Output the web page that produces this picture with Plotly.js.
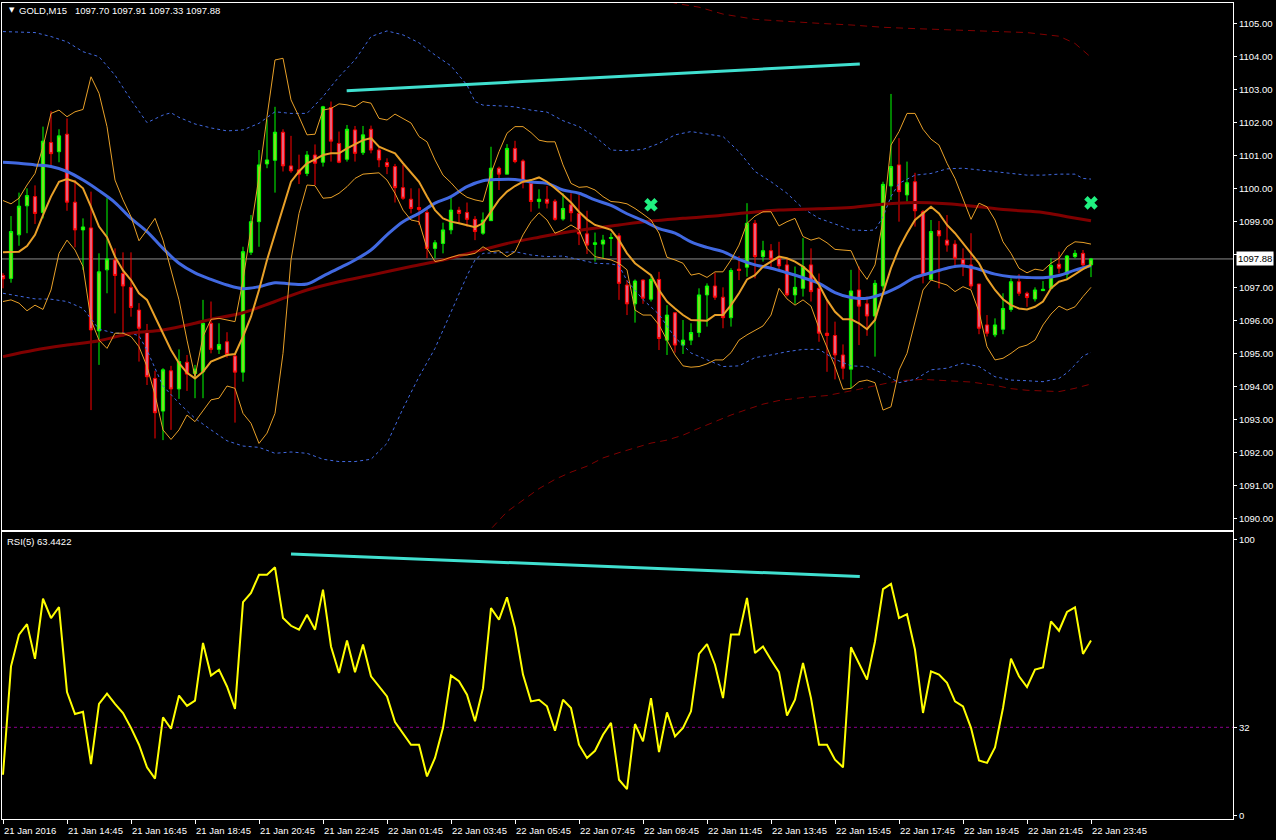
<!DOCTYPE html>
<html><head><meta charset="utf-8">
<script src="https://cdn.plot.ly/plotly-3.0.1.min.js"></script>
<style>html,body{margin:0;padding:0;background:#000;overflow:hidden}#chart{width:1276px;height:840px}</style>
</head><body><div id="chart"></div>
<script>
const symbolTitle = 'GOLD,M15\u00a0\u00a0 1097.70 1097.91 1097.33 1097.88';
const rsiTitle = 'RSI(5) 63.4422';
const timeLabels = ['21 Jan 2016','21 Jan 14:45','21 Jan 16:45','21 Jan 18:45','21 Jan 20:45','21 Jan 22:45','22 Jan 01:45','22 Jan 03:45','22 Jan 05:45','22 Jan 07:45','22 Jan 09:45','22 Jan 11:45','22 Jan 13:45','22 Jan 15:45','22 Jan 17:45','22 Jan 19:45','22 Jan 21:45','22 Jan 23:45'];
const barsPerLabel = 8;
const priceTicks = [1090,1091,1092,1093,1094,1095,1096,1097,1098,1099,1100,1101,1102,1103,1104,1105];
const rsiTicks = [0,32,100];
const rsiLevel = 32;

const open = [1097.38,1097.29,1098.61,1099.49,1099.77,1099.29,1101.41,1101.13,1101.66,1099.60,1098.76,1098.82,1095.70,1097.55,1097.85,1097.44,1097.02,1096.33,1095.70,1094.26,1093.27,1094.49,1093.94,1094.75,1094.41,1094.46,1095.93,1095.14,1095.37,1094.94,1094.45,1098.08,1099.01,1100.76,1100.87,1101.72,1100.70,1100.58,1100.47,1101.03,1100.81,1102.47,1101.38,1100.90,1101.79,1101.10,1101.81,1101.18,1100.80,1100.68,1100.04,1099.69,1099.44,1099.29,1098.20,1098.35,1098.76,1099.36,1099.29,1099.08,1098.66,1099.04,1100.63,1100.45,1101.23,1100.85,1100.17,1099.62,1099.69,1099.63,1099.09,1099.52,1099.26,1098.64,1098.32,1098.33,1098.50,1098.58,1097.09,1096.52,1097.24,1096.66,1097.26,1095.42,1096.25,1095.27,1095.42,1095.65,1096.79,1097.06,1096.72,1096.10,1097.57,1097.63,1098.96,1097.95,1098.13,1097.90,1097.70,1096.79,1096.99,1097.70,1096.99,1095.63,1095.56,1094.97,1094.54,1096.94,1096.52,1096.15,1097.06,1100.09,1100.73,1099.82,1100.22,1099.31,1097.26,1098.74,1098.45,1098.33,1097.87,1097.70,1097.12,1095.88,1095.58,1095.75,1096.35,1097.19,1096.84,1096.67,1096.92,1096.99,1097.72,1097.42,1097.95,1098.05,1097.70];
const high = [1097.45,1099.18,1099.89,1100.02,1100.11,1101.89,1102.36,1101.81,1102.14,1100.27,1099.11,1099.92,1098.05,1099.72,1098.20,1098.08,1098.08,1096.54,1095.91,1094.49,1094.57,1094.64,1095.14,1094.97,1094.67,1096.64,1096.59,1095.93,1095.66,1095.02,1098.25,1099.21,1101.18,1102.11,1102.49,1101.81,1101.61,1101.04,1101.15,1101.35,1102.52,1102.65,1101.74,1101.94,1101.91,1101.91,1101.92,1101.28,1100.93,1100.76,1100.73,1100.02,1100.02,1099.38,1098.45,1098.98,1099.77,1099.46,1099.59,1099.18,1099.29,1101.28,1100.68,1101.36,1101.46,1100.90,1100.19,1099.99,1100.09,1099.69,1099.87,1099.87,1099.82,1099.34,1098.68,1098.61,1098.66,1098.66,1097.24,1097.26,1097.26,1097.39,1097.49,1096.48,1096.25,1096.03,1095.93,1096.99,1097.14,1097.46,1097.02,1097.60,1097.97,1099.57,1099.06,1098.43,1098.33,1098.40,1097.90,1097.65,1098.51,1098.20,1097.44,1096.64,1095.98,1095.29,1097.55,1097.65,1096.74,1097.24,1100.22,1102.88,1101.54,1100.83,1100.49,1099.36,1099.06,1099.03,1099.21,1098.45,1098.20,1098.66,1097.12,1096.18,1096.08,1096.84,1097.29,1097.42,1096.89,1097.02,1097.21,1097.90,1098.10,1098.00,1098.15,1098.15,1097.91];
const low = [1096.99,1097.16,1098.28,1098.66,1098.94,1099.11,1100.70,1100.81,1099.34,1098.23,1097.55,1093.30,1094.67,1096.84,1096.23,1095.53,1096.13,1094.77,1094.06,1092.44,1092.39,1092.70,1093.64,1093.88,1093.66,1093.66,1095.02,1095.00,1094.89,1092.92,1094.16,1098.00,1098.25,1100.63,1099.89,1100.53,1100.49,1100.15,1100.39,1100.12,1100.68,1100.83,1100.78,1100.83,1100.83,1101.03,1101.08,1100.66,1100.45,1099.59,1099.67,1099.26,1098.91,1097.90,1097.90,1098.05,1098.63,1098.98,1098.86,1098.45,1098.61,1099.04,1099.97,1100.45,1100.78,1100.02,1099.31,1099.41,1099.41,1099.04,1099.04,1099.01,1098.30,1098.03,1097.80,1097.90,1097.97,1096.64,1096.18,1095.95,1096.52,1096.59,1095.12,1094.97,1095.04,1095.00,1095.27,1095.51,1095.83,1096.64,1095.78,1095.83,1097.24,1097.34,1097.29,1097.80,1097.57,1097.55,1096.74,1096.52,1096.74,1096.59,1095.37,1094.46,1094.23,1094.23,1093.96,1095.27,1095.55,1094.92,1096.94,1099.67,1099.01,1099.62,1098.86,1097.14,1097.24,1096.99,1098.10,1097.65,1097.36,1096.96,1095.60,1095.53,1095.51,1095.60,1096.28,1096.76,1096.43,1096.59,1096.92,1096.96,1097.44,1097.26,1097.90,1097.65,1097.33];
const close = [1097.28,1098.71,1099.48,1099.80,1099.26,1101.45,1101.07,1101.61,1099.60,1098.76,1098.85,1095.73,1097.49,1097.88,1097.38,1097.06,1096.41,1095.78,1094.31,1093.22,1094.52,1093.94,1094.77,1094.39,1094.54,1095.93,1095.14,1095.29,1094.99,1094.45,1098.10,1099.01,1100.73,1100.88,1101.72,1100.70,1100.55,1100.45,1101.03,1100.78,1102.49,1101.45,1100.81,1101.81,1101.08,1101.64,1101.18,1100.88,1100.68,1100.04,1099.72,1099.41,1099.38,1098.20,1098.37,1098.76,1099.36,1099.26,1099.08,1098.71,1099.06,1100.63,1100.45,1101.23,1100.83,1100.22,1099.62,1099.69,1099.57,1099.08,1099.41,1099.28,1098.64,1098.30,1098.37,1098.45,1098.53,1097.14,1096.52,1097.21,1096.69,1097.26,1095.47,1096.18,1095.27,1095.42,1095.65,1096.79,1097.06,1096.72,1096.10,1097.53,1097.53,1098.96,1097.95,1098.13,1097.87,1097.67,1096.79,1097.02,1097.65,1096.89,1095.63,1095.56,1094.97,1094.57,1096.91,1096.45,1096.15,1097.14,1100.14,1100.68,1099.92,1100.19,1099.34,1097.39,1098.71,1098.58,1098.30,1097.90,1097.70,1097.06,1095.78,1095.63,1095.88,1096.38,1097.19,1096.84,1096.71,1096.94,1096.96,1097.68,1097.60,1097.97,1098.05,1097.70,1097.88];

// fast MA and its bands (orange), one value per bar
const orangeMid = [1098.08,1098.08,1098.10,1098.27,1098.61,1099.21,1099.77,1100.22,1100.30,1100.22,1100.02,1099.46,1098.86,1098.54,1097.95,1097.53,1097.24,1096.84,1096.64,1096.13,1095.63,1095.12,1094.72,1094.43,1094.26,1094.46,1094.77,1094.87,1094.97,1095.00,1095.53,1096.13,1096.94,1097.85,1098.66,1099.46,1100.22,1100.53,1100.78,1100.90,1101.03,1101.08,1101.08,1101.23,1101.36,1101.48,1101.54,1101.28,1101.18,1101.08,1100.78,1100.50,1100.22,1099.77,1099.36,1099.11,1099.01,1098.96,1098.91,1098.84,1098.96,1099.31,1099.67,1099.92,1100.09,1100.22,1100.27,1100.35,1100.22,1100.02,1099.82,1099.59,1099.31,1099.08,1098.91,1098.84,1098.76,1098.45,1098.05,1097.75,1097.57,1097.39,1096.94,1096.59,1096.38,1096.18,1096.03,1096.01,1096.01,1096.18,1096.18,1096.48,1096.84,1097.26,1097.39,1097.65,1097.80,1097.95,1097.90,1097.80,1097.65,1097.44,1097.10,1096.64,1096.28,1096.05,1096.05,1095.93,1095.75,1096.03,1096.84,1097.60,1098.20,1098.66,1099.06,1099.26,1099.46,1099.26,1098.91,1098.66,1098.35,1098.05,1097.75,1097.29,1096.94,1096.66,1096.48,1096.38,1096.35,1096.43,1096.59,1096.99,1097.19,1097.26,1097.42,1097.57,1097.70];
const orangeUpper = [1099.65,1099.55,1099.72,1100.12,1100.47,1101.28,1102.29,1102.39,1102.19,1102.34,1102.41,1103.40,1102.90,1101.89,1100.27,1099.67,1099.16,1098.43,1098.76,1099.11,1098.45,1097.55,1096.64,1095.42,1094.31,1095.53,1096.05,1096.08,1096.03,1095.98,1097.24,1098.76,1100.37,1102.19,1103.91,1103.96,1102.70,1102.19,1101.64,1101.66,1102.39,1102.44,1102.58,1102.55,1102.49,1102.65,1102.60,1102.14,1102.09,1102.27,1102.14,1102.00,1101.59,1101.43,1100.88,1100.42,1100.19,1099.92,1099.75,1099.67,1099.62,1100.47,1101.13,1101.69,1101.89,1101.89,1101.71,1101.48,1101.43,1101.43,1100.73,1100.17,1100.05,1100.07,1099.97,1099.77,1099.62,1099.60,1099.55,1099.41,1099.24,1099.06,1098.66,1097.93,1097.85,1097.75,1097.39,1097.44,1097.32,1097.49,1097.49,1097.85,1098.30,1098.96,1099.18,1099.31,1099.31,1098.88,1099.01,1099.11,1098.56,1098.45,1098.52,1098.37,1098.17,1098.15,1098.13,1097.60,1097.26,1097.70,1099.06,1101.33,1101.74,1102.29,1102.29,1101.81,1101.51,1101.33,1100.78,1100.32,1099.67,1099.08,1099.57,1099.46,1099.06,1098.40,1098.05,1097.60,1097.46,1097.57,1097.53,1097.75,1097.90,1098.25,1098.40,1098.38,1098.33];
const orangeLower = [1096.59,1096.64,1096.54,1096.31,1096.48,1096.35,1096.94,1098.05,1098.45,1098.15,1097.65,1096.03,1095.42,1095.17,1095.63,1095.63,1095.53,1095.22,1094.62,1093.76,1092.70,1092.41,1092.70,1093.15,1092.95,1093.27,1093.61,1093.66,1094.03,1093.96,1093.20,1092.90,1092.29,1092.60,1093.20,1095.02,1097.85,1099.26,1100.12,1100.10,1099.72,1099.74,1099.87,1100.07,1100.32,1100.45,1100.47,1100.49,1100.27,1099.87,1099.36,1099.06,1099.01,1098.20,1097.80,1097.85,1097.93,1098.00,1098.00,1098.05,1098.25,1098.10,1098.13,1097.95,1098.10,1098.61,1099.01,1099.28,1099.06,1098.66,1098.76,1098.91,1098.76,1098.20,1097.95,1097.90,1097.85,1097.75,1097.55,1096.33,1096.18,1096.18,1095.88,1095.42,1094.97,1094.64,1094.60,1094.62,1094.70,1094.82,1094.82,1095.04,1095.42,1095.58,1095.71,1095.85,1096.18,1096.99,1096.67,1096.48,1096.64,1096.45,1095.78,1095.22,1094.62,1093.93,1093.96,1094.16,1094.21,1094.13,1093.30,1093.40,1094.51,1095.02,1095.98,1096.94,1097.24,1097.16,1097.09,1096.89,1097.04,1096.94,1096.28,1095.22,1094.82,1094.87,1095.02,1095.20,1095.27,1095.42,1095.88,1096.21,1096.45,1096.33,1096.43,1096.74,1097.02];

// slower MA (blue) and its bands, sampled
const blueIdx = [0,2,4,6,8,10,12,14,16,18,20,22,24,26,28,30,32,34,36,38,40,42,44,46,48,50,52,54,56,58,60,62,64,66,68,70,72,74,76,78,80,82,84,86,88,90,92,94,96,98,100,102,104,106,108,110,112,114,116,118,120,122,124,126,128,130,132,134,136];
const blueMid = [1100.81,1100.78,1100.73,1100.68,1100.53,1100.27,1099.95,1099.59,1099.11,1098.71,1098.20,1097.75,1097.46,1097.26,1097.09,1096.98,1097.04,1097.16,1097.12,1097.12,1097.36,1097.60,1097.85,1098.15,1098.61,1099.01,1099.26,1099.57,1099.77,1100.07,1100.25,1100.29,1100.29,1100.21,1100.17,1099.97,1099.87,1099.67,1099.50,1099.25,1099.04,1098.80,1098.66,1098.40,1098.23,1098.10,1097.87,1097.70,1097.60,1097.46,1097.31,1097.14,1096.86,1096.71,1096.69,1096.82,1097.04,1097.32,1097.46,1097.60,1097.67,1097.57,1097.42,1097.34,1097.32,1097.31,1097.38,1097.54,1097.68];
const blueUpIdx = [0,4,6,8,10,12,14,16,18,20,21,22,24,26,28,30,32,34,36,38,40,42,44,46,48,50,52,54,56,58,59,60,62,64,66,68,70,72,74,76,78,80,82,84,86,88,90,92,94,96,98,100,102,104,106,108,109,110,111,112,114,116,118,120,122,124,126,128,130,132,134,135,136];
const blueUpper = [1104.77,1104.74,1104.62,1104.46,1104.16,1104.01,1103.45,1102.70,1102.01,1102.24,1102.31,1102.17,1101.97,1101.85,1101.76,1101.79,1101.99,1102.34,1102.29,1102.29,1102.80,1103.40,1103.91,1104.62,1104.79,1104.67,1104.43,1104.06,1103.73,1103.15,1102.65,1102.54,1102.52,1102.49,1102.39,1102.33,1102.07,1101.89,1101.59,1101.18,1101.16,1101.20,1101.38,1101.64,1101.74,1101.67,1101.59,1101.13,1100.53,1100.22,1099.87,1099.41,1099.11,1098.94,1098.76,1098.74,1098.76,1099.16,1099.77,1100.17,1100.42,1100.47,1100.61,1100.63,1100.58,1100.53,1100.47,1100.42,1100.42,1100.45,1100.45,1100.32,1100.30];
const blueLoIdx = [0,4,6,8,10,11,12,14,16,17,18,19,20,22,24,26,28,30,32,34,36,38,40,42,44,46,48,50,51,52,54,56,58,59,60,62,64,66,68,70,72,74,76,77,78,80,82,84,86,88,90,92,94,96,98,100,102,104,106,108,110,112,114,116,118,120,122,124,126,128,130,132,133,134,135,136];
const blueLower = [1096.84,1096.67,1096.66,1096.59,1096.38,1096.08,1095.75,1095.63,1095.63,1095.55,1095.12,1094.57,1094.03,1093.51,1093.05,1092.70,1092.37,1092.21,1092.17,1091.99,1092.03,1091.99,1091.81,1091.74,1091.74,1091.81,1092.29,1093.35,1093.81,1094.31,1095.17,1096.26,1097.37,1097.85,1098.05,1098.07,1098.10,1098.00,1097.95,1097.97,1097.87,1097.75,1097.73,1097.68,1097.22,1096.65,1096.20,1095.50,1095.03,1094.83,1094.62,1094.64,1094.89,1094.97,1095.07,1095.14,1095.14,1094.84,1094.64,1094.62,1094.41,1094.13,1094.23,1094.52,1094.57,1094.72,1094.62,1094.31,1094.21,1094.19,1094.16,1094.26,1094.43,1094.67,1094.94,1095.05];

// slowest MA (maroon) and its bands, sampled
const redIdx = [0,4,8,12,16,20,24,26,30,34,38,42,46,51,55,59,63,67,71,77,81,85,89,93,97,102,106,110,114,118,122,126,130,133,136];
const redMid = [1094.92,1095.12,1095.27,1095.40,1095.63,1095.73,1095.93,1096.05,1096.25,1096.59,1096.94,1097.19,1097.39,1097.65,1097.85,1098.10,1098.35,1098.54,1098.71,1098.91,1099.03,1099.11,1099.18,1099.28,1099.36,1099.40,1099.44,1099.54,1099.59,1099.55,1099.46,1099.36,1099.29,1099.16,1099.04];
const redUpIdx = [82,84,87,90,94,98,102,106,110,114,118,122,128,132,134,136];
const redUpper = [1105.80,1105.63,1105.51,1105.30,1105.14,1105.07,1105.02,1104.97,1104.90,1104.86,1104.82,1104.79,1104.74,1104.63,1104.41,1103.99];
const redLoIdx = [60,61,63,65,67,69,71,73,75,77,81,83,85,87,89,91,93,95,97,100,103,105,107,110,112,115,119,121,124,126,128,132,134,136];
const redLower = [1089.50,1089.70,1090.22,1090.58,1090.92,1091.20,1091.42,1091.60,1091.85,1092.01,1092.30,1092.39,1092.54,1092.75,1092.96,1093.15,1093.32,1093.48,1093.59,1093.68,1093.74,1093.83,1093.93,1094.09,1094.19,1094.23,1094.19,1094.15,1094.05,1093.95,1093.90,1093.86,1093.96,1094.09];

const rsi = [14.8,54.1,65.6,69.4,56.8,78.6,71.6,75.6,44.8,36.8,37.6,18.7,40.5,44.2,40.5,37.2,31.8,25.7,17.5,13.4,35.6,31.5,43.5,39.8,41.7,62.6,50.8,52.9,46.8,38.7,77.4,80.7,87.3,87.3,90.0,71.6,68.8,67.4,72.8,67.4,81.9,61.3,51.7,63.5,52.0,62.0,50.5,46.8,43.2,33.9,29.9,25.7,25.7,14.2,20.9,31.8,50.8,48.7,43.8,34.2,46.2,75.2,71.0,79.1,68.0,51.1,41.4,42.0,39.6,30.8,42.0,39.0,25.7,20.9,23.5,29.3,33.6,13.0,9.6,33.2,26.9,42.6,23.0,37.4,28.7,31.8,37.8,58.6,62.2,54.7,42.6,65.6,65.6,78.9,58.9,61.3,56.5,52.0,36.3,42.0,55.3,42.6,25.7,25.7,20.3,17.5,61.0,55.3,49.3,63.1,82.1,84.0,71.6,73.0,60.1,37.2,52.3,51.1,48.1,41.4,39.6,31.8,20.0,19.1,24.7,39.0,56.9,50.5,46.6,52.9,53.7,70.4,67.0,73.8,75.5,58.6,63.44];

const priceTrendIdx = [42.96,107.1];
const priceTrendVal = [1102.98,1103.79];
const rsiTrendIdx = [36,107.1];
const rsiTrendVal = [94.8,86.7];
const signalIdx = [81,136];
const signalVal = [1099.52,1099.58];

const bars = open.map((_, k) => k);
const lastClose = close[close.length - 1];
const FONT = 'Liberation Sans, Arial, sans-serif';
const FS = 9.5;
const ORANGE = '#E8A028', BLUE = '#4169E1', MAROON = '#800000';

const traces = [
  {type:'scatter', mode:'lines', x:redLoIdx, y:redLower, line:{color:MAROON, width:1, dash:'7px,5px'}, hoverinfo:'skip'},
  {type:'scatter', mode:'lines', x:redUpIdx, y:redUpper, line:{color:MAROON, width:1, dash:'7px,5px'}, hoverinfo:'skip'},
  {type:'scatter', mode:'lines', x:blueUpIdx, y:blueUpper, line:{color:BLUE, width:1, dash:'3px,3px'}, hoverinfo:'skip'},
  {type:'scatter', mode:'lines', x:blueLoIdx, y:blueLower, line:{color:BLUE, width:1, dash:'3px,3px'}, hoverinfo:'skip'},
  {type:'scatter', mode:'lines', x:redIdx, y:redMid, line:{color:MAROON, width:3, shape:'spline'}, hoverinfo:'skip'},
  {type:'scatter', mode:'lines', x:blueIdx, y:blueMid, line:{color:BLUE, width:3, shape:'spline'}, hoverinfo:'skip'},
  {type:'scatter', mode:'lines', x:bars, y:orangeUpper, line:{color:ORANGE, width:1}, hoverinfo:'skip'},
  {type:'scatter', mode:'lines', x:bars, y:orangeLower, line:{color:ORANGE, width:1}, hoverinfo:'skip'},
  {type:'candlestick', x:bars, open:open, high:high, low:low, close:close, whiskerwidth:0,
   increasing:{line:{color:'#00FF00', width:1}, fillcolor:'#7CE020'},
   decreasing:{line:{color:'#FF0000', width:1}, fillcolor:'#E8607C'}, hoverinfo:'skip'},
  {type:'scatter', mode:'lines', x:bars, y:orangeMid, line:{color:ORANGE, width:2}, hoverinfo:'skip'},
  {type:'scatter', mode:'lines', x:priceTrendIdx, y:priceTrendVal, line:{color:'#40E0D0', width:3}, hoverinfo:'skip'},
  {type:'scatter', mode:'markers', x:signalIdx, y:signalVal, marker:{symbol:'x', size:12, color:'#20F080', line:{width:0}}, hoverinfo:'skip'},
  {type:'scatter', mode:'lines', x:bars, y:rsi, xaxis:'x2', yaxis:'y2', line:{color:'#FFFF00', width:2}, hoverinfo:'skip'},
  {type:'scatter', mode:'lines', x:rsiTrendIdx, y:rsiTrendVal, xaxis:'x2', yaxis:'y2', line:{color:'#40E0D0', width:3}, hoverinfo:'skip'}
];

const labelIdx = timeLabels.map((_, k) => k * barsPerLabel);
const xRange = [-0.125, 153.75];
const annotations = timeLabels.map((t, k) => ({
  xref:'x2', yref:'paper', x:labelIdx[k], y:-0.0147, xanchor:'left', yanchor:'middle', xshift:-1,
  text:t, showarrow:false, font:{family:FONT, size:FS, color:'#FFFFFF'}
}));
annotations.push({xref:'x', yref:'y', x:1.8, y:1105.42, xanchor:'left', yanchor:'middle', text:symbolTitle, showarrow:false, font:{family:FONT, size:FS, color:'#FFFFFF'}});
annotations.push({xref:'x', yref:'y', x:0.5, y:1105.42, xanchor:'left', yanchor:'middle', text:'\u25BC', showarrow:false, font:{family:'DejaVu Sans', size:7, color:'#FFFFFF'}});
annotations.push({xref:'x2', yref:'y2', x:0.3, y:99.5, xanchor:'left', yanchor:'middle', text:rsiTitle, showarrow:false, font:{family:FONT, size:FS, color:'#FFFFFF'}});
annotations.push({xref:'paper', yref:'y', x:1, y:lastClose, xanchor:'left', yanchor:'middle', xshift:3, text:lastClose.toFixed(2), showarrow:false, bgcolor:'#FFFFFF', borderpad:1, font:{family:FONT, size:FS, color:'#000000'}});

const layout = {
  width:1276, height:840,
  paper_bgcolor:'#000000', plot_bgcolor:'#000000',
  margin:{l:2, r:43, t:3, b:21},
  showlegend:false, boxgap:0.42,
  xaxis:{domain:[0,1], anchor:'y', range:xRange, showticklabels:false, ticks:'', showgrid:false, zeroline:false,
         showline:true, mirror:true, linecolor:'#FFFFFF', linewidth:1, rangeslider:{visible:false}, fixedrange:true},
  yaxis:{domain:[0.3542,1], anchor:'x', side:'right', range:[1089.667,1105.636], tickvals:priceTicks,
         ticktext:priceTicks.map(v => v.toFixed(2)), ticks:'outside', ticklen:3, tickcolor:'#FFFFFF',
         tickfont:{family:FONT, size:FS, color:'#FFFFFF'}, showgrid:false, zeroline:false,
         showline:true, mirror:true, linecolor:'#FFFFFF', linewidth:1},
  xaxis2:{domain:[0,1], anchor:'y2', range:xRange, tickvals:labelIdx, showticklabels:false, ticks:'outside', ticklen:4,
          tickcolor:'#FFFFFF', showgrid:false, zeroline:false, showline:true, mirror:true, linecolor:'#FFFFFF', linewidth:1},
  yaxis2:{domain:[0,0.3517], anchor:'x2', side:'right', range:[-1.23,102.79], tickvals:rsiTicks, ticktext:rsiTicks.map(String),
          ticks:'outside', ticklen:3, tickcolor:'#FFFFFF', tickfont:{family:FONT, size:FS, color:'#FFFFFF'},
          showgrid:false, zeroline:false, showline:true, mirror:true, linecolor:'#FFFFFF', linewidth:1},
  shapes:[
    {type:'line', xref:'x domain', yref:'y', x0:0, x1:1, y0:lastClose, y1:lastClose, line:{color:'#8C8C8C', width:1}, layer:'below'},
    {type:'line', xref:'x2 domain', yref:'y2', x0:0, x1:1, y0:rsiLevel, y1:rsiLevel, line:{color:'#8B008B', width:1, dash:'3px,3px'}, layer:'below'}
  ],
  annotations:annotations
};

Plotly.newPlot('chart', traces, layout, {staticPlot:true, displayModeBar:false});
</script>
</body></html>
